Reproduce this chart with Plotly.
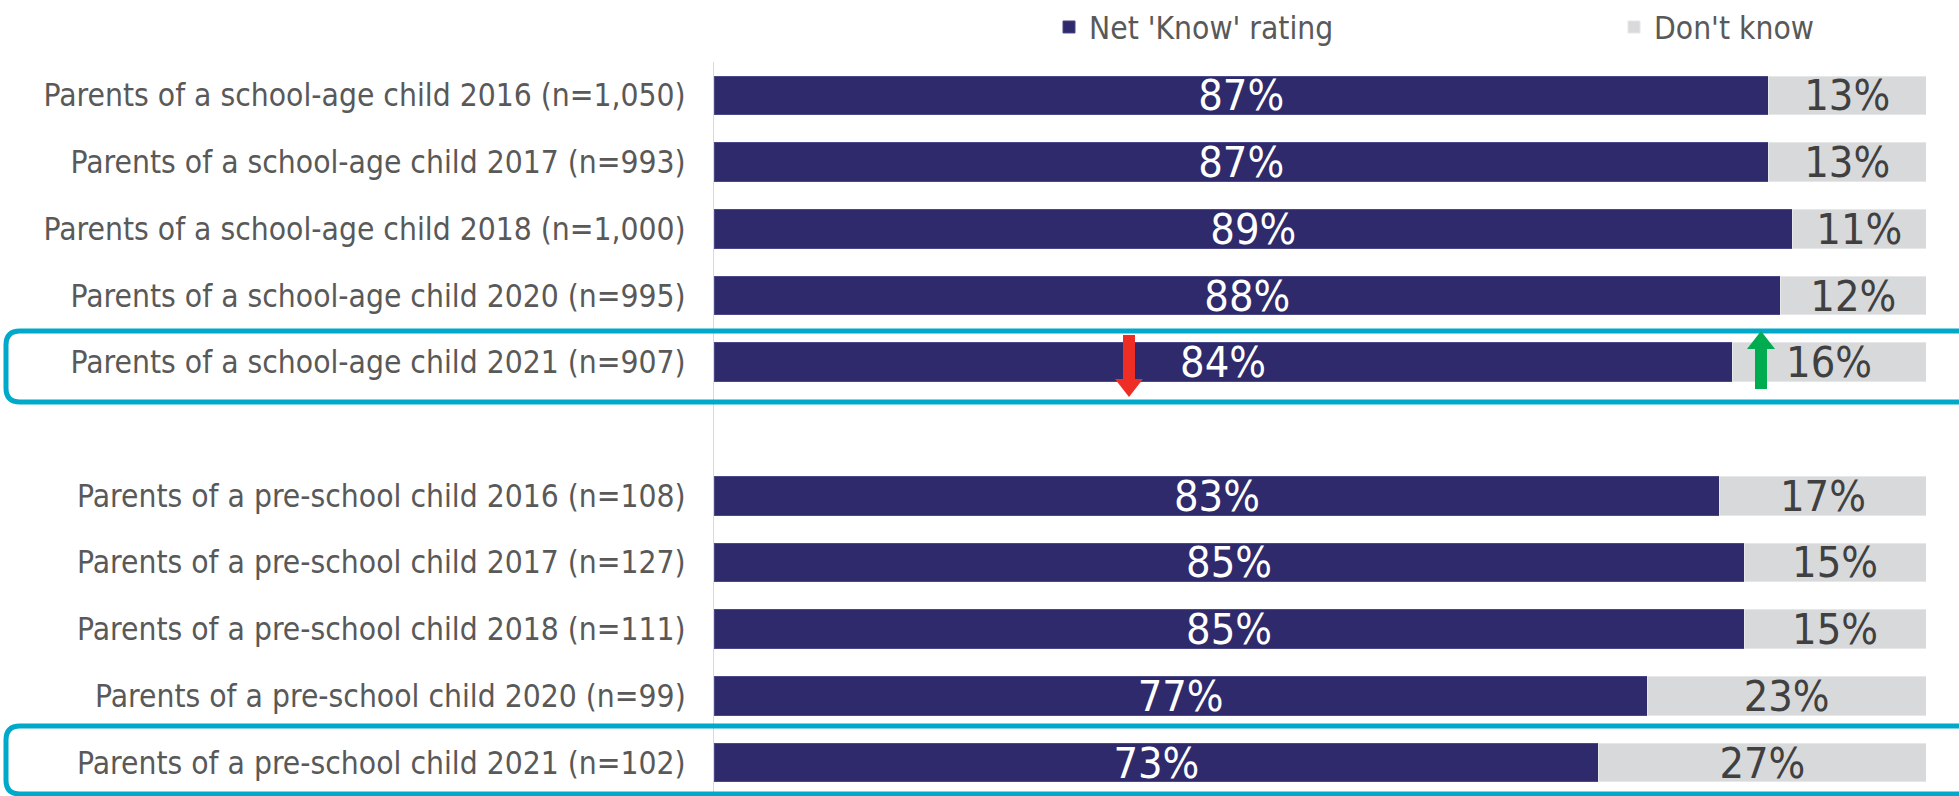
import plotly.graph_objects as go

categories = [
    "Parents of a school-age child 2016 (n=1,050)",
    "Parents of a school-age child 2017 (n=993)",
    "Parents of a school-age child 2018 (n=1,000)",
    "Parents of a school-age child 2020 (n=995)",
    "Parents of a school-age child 2021 (n=907)",
    " ",
    "Parents of a pre-school child 2016 (n=108)",
    "Parents of a pre-school child 2017 (n=127)",
    "Parents of a pre-school child 2018 (n=111)",
    "Parents of a pre-school child 2020 (n=99)",
    "Parents of a pre-school child 2021 (n=102)",
]
net_know = [87, 87, 89, 88, 84, None, 83, 85, 85, 77, 73]
dont_know = [13, 13, 11, 12, 16, None, 17, 15, 15, 23, 27]

W, H = 1959, 796
ML, MR, MT, MB = 714, 33, 62, 0
PH = H - MT - MB
FONT = "DejaVu Sans Condensed, DejaVu Sans, sans-serif"
NAVY = "#2E2A6C"
GRAY = "#D8D9DB"
CYAN = "#00A9C9"
LBL = 31.5
VAL = 43


def py(p):
    return (H - MB - p) / PH


def px(p):
    return (p - ML) / (W - ML - MR)


def lbl(v):
    return [None if x is None else f"{x}%" for x in v]


fig = go.Figure()
fig.add_trace(go.Bar(
    y=categories, x=net_know, orientation="h", name="Net 'Know' rating",
    marker=dict(color=NAVY, line=dict(color="#4B4887", width=1)),
    text=lbl(net_know), textposition="inside", insidetextanchor="middle",
    textangle=0, constraintext="none",
    textfont=dict(family=FONT, size=VAL, color="white"),
    legend="legend",
))
fig.add_trace(go.Bar(
    y=categories, x=dont_know, orientation="h", name="Don't know",
    marker=dict(color=GRAY, line=dict(color="#E6E7E9", width=1)),
    text=lbl(dont_know), textposition="inside", insidetextanchor="middle",
    textangle=0, constraintext="none",
    textfont=dict(family=FONT, size=VAL, color="#404040"),
    legend="legend2",
))

shapes = []


def rounded(x0, y0, x1, y1, r):
    X0, X1 = px(x0), px(x1)
    Y0, Y1 = py(y0), py(y1)
    rx = r / (W - ML - MR)
    ry = r / PH
    return (f"M{X0+rx},{Y0} L{X1-rx},{Y0} Q{X1},{Y0} {X1},{Y0-ry} "
            f"L{X1},{Y1+ry} Q{X1},{Y1} {X1-rx},{Y1} L{X0+rx},{Y1} "
            f"Q{X0},{Y1} {X0},{Y1+ry} L{X0},{Y0-ry} Q{X0},{Y0} {X0+rx},{Y0} Z")


for (y0, y1) in [(331, 402), (726, 794)]:
    shapes.append(dict(type="path", xref="paper", yref="paper",
                       path=rounded(6, y0, 1985, y1, 14),
                       line=dict(color=CYAN, width=5), fillcolor="rgba(0,0,0,0)",
                       layer="above"))


def arrow(cx, ytop, ybot, up, color, shaft=12, head=28, hl=18):
    xs = lambda d: px(cx + d)
    if up:
        tip, base = ytop, ybot
        neck = ytop + hl
    else:
        tip, base = ybot, ytop
        neck = ybot - hl
    path = (f"M{xs(-shaft/2)},{py(base)} L{xs(shaft/2)},{py(base)} "
            f"L{xs(shaft/2)},{py(neck)} L{xs(head/2)},{py(neck)} "
            f"L{xs(0)},{py(tip)} L{xs(-head/2)},{py(neck)} "
            f"L{xs(-shaft/2)},{py(neck)} Z")
    return dict(type="path", xref="paper", yref="paper", path=path,
                fillcolor=color, line=dict(width=0), layer="above")


shapes.append(arrow(1129, 335, 397, False, "#EE2E24"))
shapes.append(arrow(1761, 331, 389, True, "#00AC4F"))

legend_common = dict(orientation="h", xanchor="left", y=py(27), yanchor="middle",
                     itemwidth=30, bgcolor="rgba(0,0,0,0)",
                     font=dict(family=FONT, size=LBL, color="#595959"))

fig.update_layout(
    width=W, height=H,
    margin=dict(l=ML, r=MR, t=MT, b=MB, pad=0, autoexpand=False),
    barmode="stack", bargap=0.42,
    plot_bgcolor="white", paper_bgcolor="white",
    font=dict(family=FONT, size=LBL, color="#595959"),
    xaxis=dict(range=[0, 100], visible=False, fixedrange=True),
    yaxis=dict(autorange="reversed", showgrid=False, zeroline=False,
               showline=True, linecolor="#D9D9D9", linewidth=1,
               ticks="outside", ticklen=21, tickcolor="rgba(0,0,0,0)",
               tickfont=dict(family=FONT, size=LBL, color="#595959")),
    legend=dict(x=px(1049), **legend_common),
    legend2=dict(x=px(1614), **legend_common),
    shapes=shapes,
    showlegend=True,
)

fig.write_html(
    "out.html",
    config={"displayModeBar": False},
    post_script="document.body.style.margin='0';document.body.style.padding='0';document.body.style.overflow='hidden';",
)
